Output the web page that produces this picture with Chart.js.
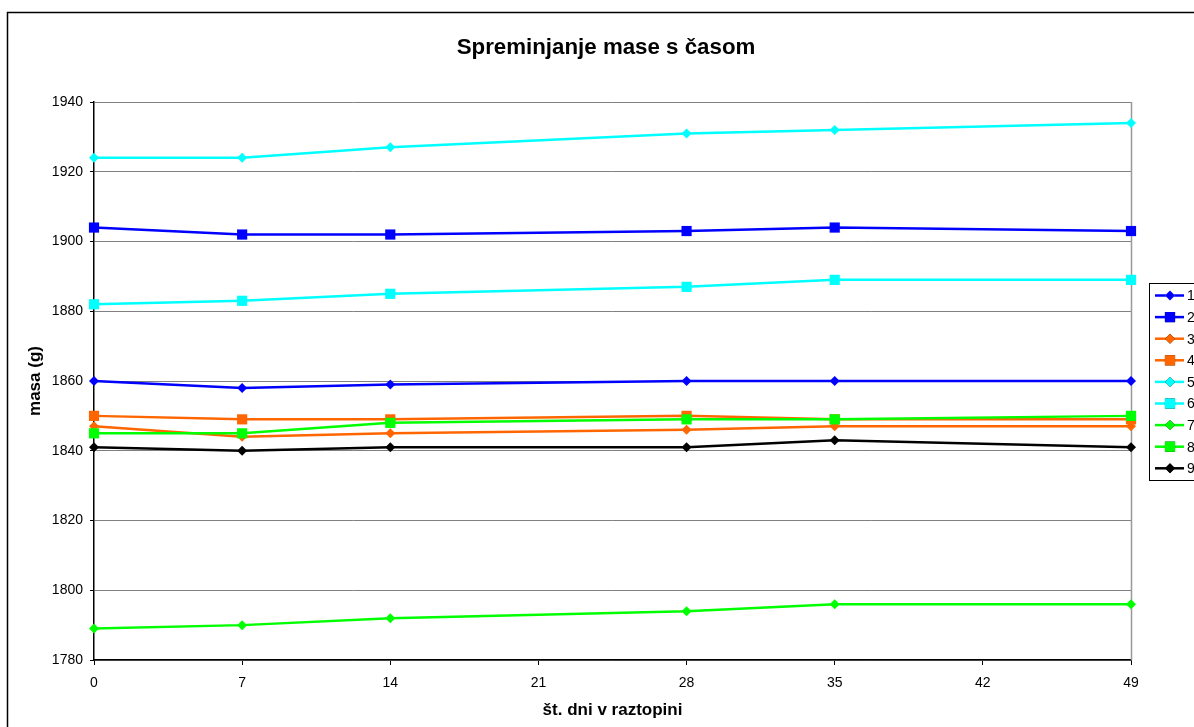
<!DOCTYPE html>
<html>
<head>
<meta charset="utf-8">
<script src="https://cdn.jsdelivr.net/npm/chart.js@4.4.1/dist/chart.umd.min.js"></script>
<style>
html,body{margin:0;padding:0;background:#fff;overflow:hidden;}
#wrap{position:absolute;left:0;top:0;width:1194px;height:727px;}
</style>
</head>
<body>
<div id="wrap"><canvas id="c" width="1194" height="727"></canvas></div>
<script>
const days = [0, 7, 14, 28, 35, 49];
const seriesNames = ["1", "2", "3", "4", "5", "6", "7", "8", "9"];
const s1 = [1860, 1858, 1859, 1860, 1860, 1860];
const s2 = [1904, 1902, 1902, 1903, 1904, 1903];
const s3 = [1847, 1844, 1845, 1846, 1847, 1847];
const s4 = [1850, 1849, 1849, 1850, 1849, 1849];
const s5 = [1924, 1924, 1927, 1931, 1932, 1934];
const s6 = [1882, 1883, 1885, 1887, 1889, 1889];
const s7 = [1789, 1790, 1792, 1794, 1796, 1796];
const s8 = [1845, 1845, 1848, 1849, 1849, 1850];
const s9 = [1841, 1840, 1841, 1841, 1843, 1841];
const allSeries = [s1, s2, s3, s4, s5, s6, s7, s8, s9];
const colors = ["#0000FF", "#0000FF", "#FF6600", "#FF6600", "#00FFFF", "#00FFFF", "#00FF00", "#00FF00", "#000000"];
const markers = ["rectRot", "rect", "rectRot", "rect", "rectRot", "rect", "rectRot", "rect", "rectRot"];
const titleText = "Spreminjanje mase s časom";
const xTitle = "št. dni v raztopini";
const yTitle = "masa (g)";

const FONT = "'Liberation Sans', Arial, sans-serif";
function radiusFor(m) { return m === "rect" ? 7.2 : 5; }

const datasets = allSeries.map((vals, i) => ({
  label: seriesNames[i],
  data: days.map((d, j) => ({ x: d, y: vals[j] })),
  borderColor: colors[i],
  backgroundColor: colors[i],
  pointStyle: markers[i],
  pointRadius: radiusFor(markers[i]),
  pointHoverRadius: radiusFor(markers[i]),
  pointBorderWidth: 0,
  borderWidth: 2.5,
  tension: 0,
  clip: false,
  order: allSeries.length - i
}));

const decor = {
  id: "decor",
  beforeDraw(chart) {
    const ctx = chart.ctx;
    ctx.save();
    ctx.fillStyle = "#fff";
    ctx.fillRect(0, 0, chart.width, chart.height);
    ctx.strokeStyle = "#000";
    ctx.lineWidth = 1.5;
    ctx.strokeRect(7.5, 12.5, 1400, 900);
    ctx.restore();
  },
  beforeDatasetsDraw(chart) {
    const ctx = chart.ctx;
    const a = chart.chartArea;
    ctx.save();
    ctx.strokeStyle = "#999";
    ctx.lineWidth = 1.5;
    ctx.beginPath();
    ctx.moveTo(a.right + 0.5, a.top);
    ctx.lineTo(a.right + 0.5, a.bottom);
    ctx.stroke();
    ctx.restore();
  },
  afterDraw(chart) {
    const ctx = chart.ctx;
    ctx.save();
    ctx.fillStyle = "#000";
    ctx.font = "bold 22.3px " + FONT;
    ctx.textAlign = "center";
    ctx.textBaseline = "middle";
    ctx.fillText(titleText, 606, 48);
    const lx = 1149.5, ly = 283.5;
    ctx.fillStyle = "#fff";
    ctx.fillRect(lx, ly, 200, 197);
    ctx.strokeStyle = "#000";
    ctx.lineWidth = 1;
    ctx.strokeRect(lx, ly, 200, 197);
    ctx.font = "14px " + FONT;
    ctx.textAlign = "left";
    chart.data.datasets.forEach((ds, i) => {
      const y = 295.5 + i * 21.6;
      ctx.strokeStyle = ds.borderColor;
      ctx.lineWidth = 2.5;
      ctx.beginPath();
      ctx.moveTo(1155, y);
      ctx.lineTo(1184, y);
      ctx.stroke();
      Chart.helpers.drawPoint(ctx, { pointStyle: ds.pointStyle, rotation: 0, radius: ds.pointRadius, borderWidth: 0 }, 1170, y);
      ctx.fillStyle = ds.backgroundColor;
      ctx.fill();
      ctx.fillStyle = "#000";
      ctx.fillText(ds.label, 1187, y + 1);
    });
    ctx.restore();
  }
};

new Chart(document.getElementById("c"), {
  type: "line",
  data: { datasets },
  plugins: [decor],
  options: {
    responsive: false,
    animation: false,
    devicePixelRatio: 1,
    layout: { padding: { top: 102, right: 63, left: 0, bottom: 0 } },
    plugins: { legend: { display: false }, title: { display: false }, tooltip: { enabled: false } },
    scales: {
      x: {
        type: "linear",
        min: 0, max: 49,
        afterFit(s) { s.height = 67; },
        ticks: { stepSize: 7, color: "#000", font: { size: 14, family: FONT }, padding: 10, maxRotation: 0, callback: v => String(v) },
        grid: { drawOnChartArea: false, tickLength: 5, color: "#000", tickColor: "#000", lineWidth: 1 },
        border: { color: "#000", width: 1.5 },
        title: { display: true, text: xTitle, color: "#000", font: { size: 17, weight: "bold", family: FONT }, padding: { top: 0, bottom: 6 } }
      },
      y: {
        type: "linear",
        min: 1780, max: 1940,
        afterFit(s) { s.width = 94; },
        ticks: { stepSize: 20, color: "#000", font: { size: 14, family: FONT }, padding: 7, callback: v => String(v) },
        grid: { color: "#808080", tickColor: "#000", tickLength: 4, lineWidth: 1 },
        border: { color: "#000", width: 1.5 },
        title: { display: true, text: yTitle, color: "#000", font: { size: 17, weight: "bold", family: FONT }, padding: { top: 25, bottom: 0 } }
      }
    }
  }
});
</script>
</body>
</html>
